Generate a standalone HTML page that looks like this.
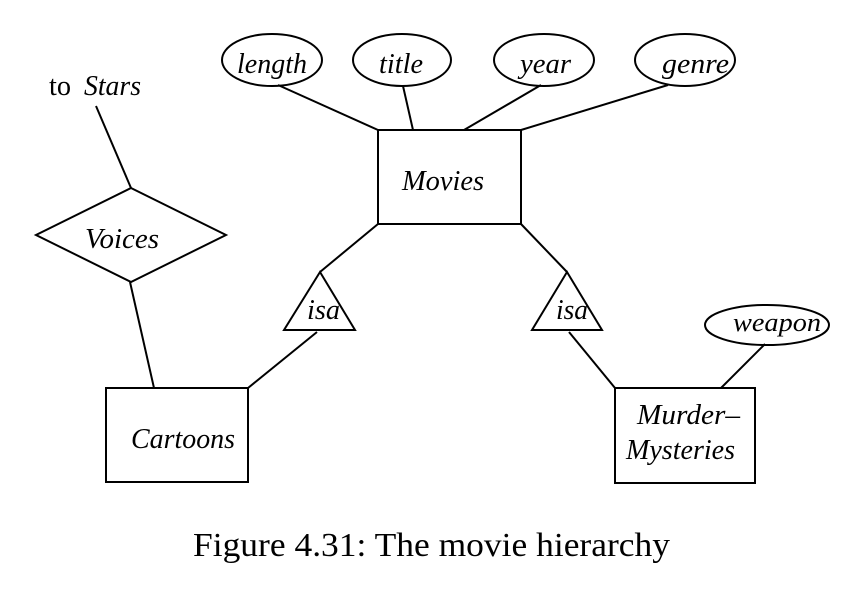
<!DOCTYPE html>
<html><head><meta charset="utf-8"><style>
html,body{margin:0;padding:0;background:#fff;}
svg{display:block;}
text{font-family:"Liberation Serif",serif;font-style:italic;fill:#000;}
</style></head><body>
<svg width="868" height="594" viewBox="0 0 868 594" xmlns="http://www.w3.org/2000/svg">
<g fill="none" stroke="#000" stroke-width="2">
<ellipse cx="272" cy="60" rx="50" ry="26"/>
<ellipse cx="402" cy="60" rx="49" ry="26"/>
<ellipse cx="544" cy="60" rx="50" ry="26"/>
<ellipse cx="685" cy="60" rx="50" ry="26"/>
<line x1="278" y1="85" x2="378" y2="130"/>
<line x1="403" y1="86" x2="413" y2="130"/>
<line x1="541" y1="85" x2="464" y2="130"/>
<line x1="668" y1="85" x2="521" y2="130"/>
<rect x="378" y="130" width="143" height="94"/>
<line x1="96" y1="106" x2="131" y2="188"/>
<polygon points="131,188 226,235 131,282 36,235"/>
<line x1="130" y1="282" x2="154" y2="388"/>
<line x1="378" y1="224" x2="320" y2="272"/>
<line x1="521" y1="224" x2="567" y2="272"/>
<polygon points="320,272 355,330 284,330"/>
<polygon points="567,272 602,330 532,330"/>
<line x1="317" y1="332" x2="248" y2="388"/>
<line x1="569" y1="332" x2="615" y2="388"/>
<rect x="106" y="388" width="142" height="94"/>
<rect x="615" y="388" width="140" height="95"/>
<ellipse cx="767" cy="325" rx="62" ry="20"/>
<line x1="765" y1="344" x2="721" y2="388"/>
</g>
<g font-size="28">
<text x="237" y="73" textLength="70" lengthAdjust="spacingAndGlyphs">length</text>
<text x="379" y="73" textLength="44" lengthAdjust="spacingAndGlyphs">title</text>
<text x="520" y="73" textLength="51" lengthAdjust="spacingAndGlyphs">year</text>
<text x="662" y="73" textLength="67" lengthAdjust="spacingAndGlyphs">genre</text>
<text x="402" y="190" textLength="82" lengthAdjust="spacingAndGlyphs">Movies</text>
<text x="85" y="248" textLength="74" lengthAdjust="spacingAndGlyphs">Voices</text>
<text x="49" y="95" style="font-style:normal" textLength="22" lengthAdjust="spacingAndGlyphs">to</text>
<text x="84" y="95" textLength="57" lengthAdjust="spacingAndGlyphs">Stars</text>
<text x="307" y="319" textLength="33" lengthAdjust="spacingAndGlyphs">isa</text>
<text x="556" y="319" textLength="32" lengthAdjust="spacingAndGlyphs">isa</text>
<text x="131" y="448" textLength="104" lengthAdjust="spacingAndGlyphs">Cartoons</text>
<text x="637" y="424" textLength="103" lengthAdjust="spacingAndGlyphs">Murder–</text>
<text x="626" y="459" textLength="109" lengthAdjust="spacingAndGlyphs">Mysteries</text>
<text x="733" y="331" font-size="26" textLength="88" lengthAdjust="spacingAndGlyphs">weapon</text>
</g>
<text x="193" y="556" font-size="34" style="font-style:normal" textLength="477" lengthAdjust="spacingAndGlyphs">Figure 4.31: The movie hierarchy</text>
</svg>
</body></html>
